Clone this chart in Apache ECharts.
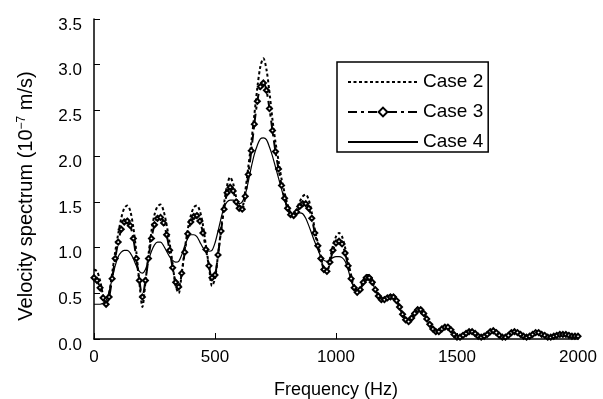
<!DOCTYPE html>
<html>
<head>
<meta charset="utf-8">
<script src="https://cdn.jsdelivr.net/npm/echarts@6/dist/echarts.min.js"></script>
<style>
	html, body { margin: 0; padding: 0; background: #fff; }
	#chart { width: 603px; height: 399px; }
</style>
</head>
<body>
<div id="chart"></div>
<script>
// frequency samples (Hz), one every 12.5 Hz, 0..2000
var freq = [];
for (var i = 0; i <= 160; i++) freq.push(i * 12.5);

// one row = 100 Hz
var case2 = [
	0.76, 0.74, 0.64, 0.48, 0.38, 0.50, 0.72, 0.95,
	1.15, 1.32, 1.43, 1.46, 1.40, 1.22, 0.95, 0.62,
	0.35, 0.62, 0.92, 1.18, 1.36, 1.45, 1.47, 1.40,
	1.25, 1.05, 0.82, 0.58, 0.50, 0.72, 0.98, 1.20,
	1.35, 1.44, 1.46, 1.40, 1.25, 1.02, 0.80, 0.58,
	0.66, 0.92, 1.20, 1.48, 1.68, 1.77, 1.70, 1.55,
	1.46, 1.45, 1.62, 1.88, 2.15, 2.45, 2.75, 2.98,
	3.07, 2.95, 2.70, 2.40, 2.15, 1.95, 1.75, 1.60,
	1.47, 1.38, 1.36, 1.42, 1.50, 1.56, 1.58, 1.52,
	1.38, 1.20, 1.05, 0.90, 0.78, 0.76, 0.88, 1.02,
	1.12, 1.16, 1.12, 1.00, 0.85, 0.70, 0.58, 0.52,
	0.56, 0.64, 0.70, 0.70, 0.65, 0.56, 0.48, 0.44,
	0.44, 0.46, 0.48, 0.48, 0.44, 0.36, 0.28, 0.22,
	0.20, 0.24, 0.30, 0.34, 0.34, 0.30, 0.24, 0.17,
	0.12, 0.09, 0.09, 0.12, 0.14, 0.14, 0.11, 0.06,
	0.03, 0.02, 0.04, 0.07, 0.09, 0.09, 0.07, 0.04,
	0.02, 0.03, 0.06, 0.09, 0.10, 0.08, 0.05, 0.02,
	0.03, 0.05, 0.08, 0.09, 0.08, 0.05, 0.03, 0.02,
	0.04, 0.06, 0.08, 0.08, 0.06, 0.04, 0.03, 0.02,
	0.03, 0.05, 0.06, 0.06, 0.05, 0.04, 0.04, 0.04,
	0.04];

var case3 = [
	0.67, 0.64, 0.56, 0.45, 0.38, 0.46, 0.66, 0.88,
	1.06, 1.20, 1.28, 1.29, 1.24, 1.10, 0.88, 0.64,
	0.46, 0.64, 0.88, 1.10, 1.25, 1.32, 1.33, 1.27,
	1.14, 0.97, 0.78, 0.62, 0.57, 0.72, 0.95, 1.15,
	1.28, 1.34, 1.35, 1.29, 1.16, 0.98, 0.80, 0.67,
	0.70, 0.92, 1.18, 1.42, 1.60, 1.66, 1.62, 1.50,
	1.43, 1.42, 1.56, 1.80, 2.06, 2.35, 2.60, 2.76,
	2.80, 2.72, 2.52, 2.28, 2.05, 1.86, 1.68, 1.54,
	1.43, 1.36, 1.35, 1.39, 1.45, 1.48, 1.48, 1.43,
	1.32, 1.16, 1.02, 0.88, 0.76, 0.74, 0.84, 0.97,
	1.05, 1.07, 1.04, 0.94, 0.80, 0.66, 0.56, 0.51,
	0.54, 0.62, 0.67, 0.67, 0.62, 0.54, 0.47, 0.43,
	0.43, 0.45, 0.46, 0.46, 0.42, 0.35, 0.27, 0.21,
	0.19, 0.23, 0.28, 0.32, 0.32, 0.28, 0.22, 0.16,
	0.11, 0.08, 0.08, 0.11, 0.13, 0.13, 0.10, 0.05,
	0.02, 0.02, 0.04, 0.06, 0.08, 0.08, 0.06, 0.03,
	0.02, 0.03, 0.05, 0.08, 0.09, 0.07, 0.04, 0.02,
	0.02, 0.04, 0.07, 0.08, 0.07, 0.05, 0.03, 0.02,
	0.03, 0.05, 0.07, 0.07, 0.05, 0.04, 0.02, 0.02,
	0.03, 0.04, 0.05, 0.05, 0.05, 0.04, 0.03, 0.03,
	0.03];

var case4 = [
	0.38, 0.38, 0.38, 0.39, 0.42, 0.52, 0.66, 0.80,
	0.90, 0.95, 0.97, 0.97, 0.94, 0.88, 0.80, 0.74,
	0.72, 0.76, 0.86, 0.96, 1.03, 1.06, 1.06, 1.02,
	0.96, 0.90, 0.86, 0.84, 0.85, 0.92, 1.02, 1.10,
	1.14, 1.14, 1.12, 1.06, 1.00, 0.97, 0.96, 0.97,
	1.05, 1.18, 1.32, 1.44, 1.50, 1.52, 1.52, 1.50,
	1.48, 1.50, 1.58, 1.72, 1.88, 2.02, 2.12, 2.19,
	2.20, 2.18, 2.10, 2.00, 1.88, 1.76, 1.64, 1.52,
	1.42, 1.37, 1.37, 1.38, 1.38, 1.37, 1.32, 1.24,
	1.15, 1.06, 0.98, 0.90, 0.86, 0.85, 0.87, 0.89,
	0.90, 0.90, 0.89, 0.85, 0.76, 0.64, 0.56, 0.53,
	0.54, 0.60, 0.64, 0.65, 0.61, 0.54, 0.47, 0.43,
	0.42, 0.43, 0.44, 0.44, 0.41, 0.34, 0.27, 0.21,
	0.19, 0.22, 0.27, 0.30, 0.30, 0.27, 0.21, 0.15,
	0.11, 0.09, 0.09, 0.11, 0.12, 0.12, 0.09, 0.05,
	0.02, 0.02, 0.04, 0.06, 0.07, 0.07, 0.06, 0.03,
	0.02, 0.03, 0.05, 0.07, 0.08, 0.07, 0.04, 0.02,
	0.02, 0.04, 0.06, 0.07, 0.06, 0.05, 0.03, 0.02,
	0.03, 0.04, 0.06, 0.06, 0.05, 0.04, 0.02, 0.02,
	0.03, 0.04, 0.05, 0.05, 0.04, 0.04, 0.03, 0.03,
	0.03];

function pairs(vals) {
	var out = [];
	for (var i = 0; i < freq.length; i++) out.push([freq[i], vals[i]]);
	return out;
}

var myChart = echarts.init(document.getElementById('chart'));
var FONT = 'Liberation Sans, Arial, sans-serif';

option = {
	backgroundColor : '#fff',
	animation : false,
	textStyle : {
		fontFamily : FONT
	},
	grid : {
		left : 94,
		right : 25,
		top : 19,
		bottom : 60,
		outerBoundsMode : 'none'
	},
	legend : {
		left : 337,
		top : 62,
		orient : 'vertical',
		itemWidth : 70,
		itemHeight : 11,
		itemGap : 10,
		padding : [ 10, 5, 0, 10 ],
		borderColor : '#000',
		borderWidth : 1.5,
		borderRadius : 0,
		textStyle : {
			color : '#000',
			fontSize : 19,
			lineHeight : 20,
			fontFamily : FONT
		},
		data : [ {
			name : 'Case 2',
			itemStyle : { opacity : 0 }
		}, {
			name : 'Case 3'
		}, {
			name : 'Case 4',
			itemStyle : { opacity : 0 }
		} ]
	},
	xAxis : {
		type : 'value',
		min : 0,
		max : 2000,
		interval : 500,
		name : 'Frequency (Hz)',
		nameLocation : 'middle',
		nameGap : 42,
		nameTextStyle : {
			color : '#000',
			fontSize : 18,
			fontFamily : FONT
		},
		axisLine : {
			lineStyle : {
				color : '#000',
				width : 1.5
			}
		},
		axisTick : {
			inside : true,
			length : 6,
			lineStyle : {
				color : '#000'
			}
		},
		axisLabel : {
			color : '#000',
			fontSize : 17,
			margin : 10,
			formatter : function(v) {
				return String(v);
			}
		},
		splitLine : {
			show : false
		}
	},
	yAxis : {
		type : 'value',
		min : 0,
		max : 3.5,
		interval : 0.5,
		name : '{a|Velocity spectrum (10}{s|−7}{a| m/s)}',
		nameLocation : 'middle',
		nameGap : 57,
		nameTextStyle : {
			padding : [ 0, 34, 0, 0 ],
			rich : {
				a : {
					color : '#000',
					fontSize : 20,
					fontFamily : FONT
				},
				s : {
					color : '#000',
					fontSize : 12,
					padding : [ 0, 0, 9, 0 ],
					fontFamily : FONT
				}
			}
		},
		axisLine : {
			show : true,
			lineStyle : {
				color : '#000',
				width : 1.5
			}
		},
		axisTick : {
			show : true,
			inside : true,
			length : 6,
			lineStyle : {
				color : '#000'
			}
		},
		axisLabel : {
			margin : 12,
			formatter : function(v) {
				return '{t|' + v.toFixed(1) + '}';
			},
			rich : {
				t : {
					color : '#000',
					fontSize : 17,
					fontFamily : FONT,
					padding : [ 12, 0, 0, 0 ]
				}
			}
		},
		splitLine : {
			show : false
		}
	},
	series : [ {
		name : 'Case 2',
		type : 'line',
		smooth : 0.3,
		symbol : 'none',
		lineStyle : {
			color : '#000',
			width : 2,
			type : [ 3, 2.5 ]
		},
		itemStyle : {
			color : '#000'
		},
		data : pairs(case2)
	}, {
		name : 'Case 3',
		type : 'line',
		smooth : 0.3,
		symbol : 'emptyDiamond',
		symbolSize : 5,
		showAllSymbol : true,
		lineStyle : {
			color : '#000',
			width : 2,
			type : [ 9, 4, 3, 4 ]
		},
		itemStyle : {
			color : '#000',
			borderColor : '#000',
			borderWidth : 1.2
		},
		data : pairs(case3)
	}, {
		name : 'Case 4',
		type : 'line',
		smooth : 0.3,
		symbol : 'none',
		lineStyle : {
			color : '#000',
			width : 1.2
		},
		itemStyle : {
			color : '#000'
		},
		data : pairs(case4)
	} ]
};
myChart.setOption(option);
</script>
</body>
</html>
